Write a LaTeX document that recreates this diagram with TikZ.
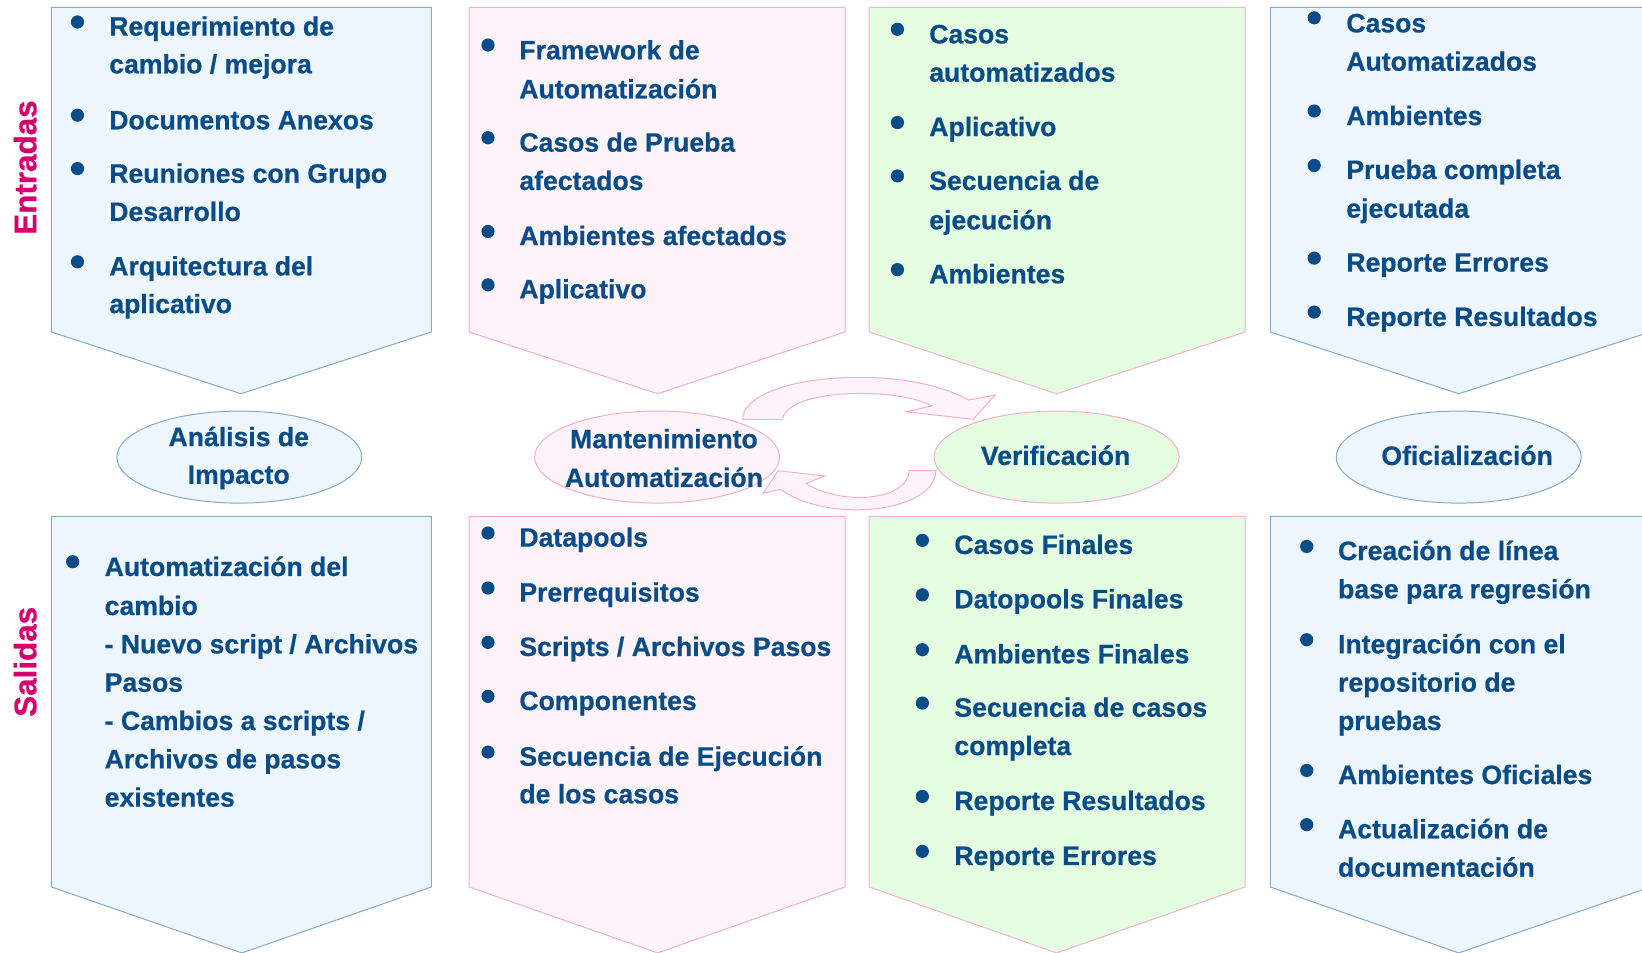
\documentclass[tikz,border=0pt]{standalone}
\usepackage{fontspec}
\setmainfont{Liberation Sans}[BoldFeatures={FakeBold=0.6}]
\usetikzlibrary{shapes.geometric}
\definecolor{tblue}{RGB}{10,76,136}
\definecolor{mag}{RGB}{214,0,111}
\definecolor{bfill}{RGB}{238,246,253}
\definecolor{bline}{RGB}{134,170,204}
\definecolor{pfill}{RGB}{255,243,250}
\definecolor{pline}{RGB}{244,175,207}
\definecolor{gfill}{RGB}{228,253,224}
\definecolor{gline}{RGB}{238,180,204}
\newcommand\mybul[3]{\node[bulst] (#1) at (#2,#3) {};}
\newcommand\myln[4]{\node[txt] (#1) at (#2,#3) {#4};}
\begin{document}
\begin{tikzpicture}[x=0.5236pt,y=-0.5236pt,
  txt/.style={font=\bfseries\fontsize{13.3}{16}\selectfont, text=tblue, inner sep=0pt, anchor=base west},
  lbl/.style={font=\bfseries\fontsize{13.3}{16}\selectfont, text=tblue, inner sep=0pt, anchor=base},
  side/.style={font=\bfseries\fontsize{15.7}{18}\selectfont, text=mag, inner sep=0pt, rotate=90},
  bulst/.style={circle, fill=tblue, inner sep=0pt, minimum size=6.6pt},
  bluebox/.style={fill=bfill, draw=bline, line width=0.5pt},
  pinkbox/.style={fill=pfill, draw=pline, line width=0.5pt},
  greenbox/.style={fill=gfill, draw=gline, line width=0.5pt},
  phase/.style={ellipse, minimum width=122.5pt, minimum height=46pt, line width=0.5pt, inner sep=0pt},
  cyc/.style={fill=pfill, draw=pline, line width=0.5pt},
]
\useasboundingbox (0,0) rectangle (1568,910);
\clip (0,0) rectangle (1568,910);
\fill[white] (0,0) rectangle (1568,910);

% top boxes
\draw[bluebox]  (49,7) -- (412,7) -- (412,317) -- (230,376) -- (49,317) -- cycle;
\draw[pinkbox]  (448,7) -- (807,7) -- (807,317) -- (628,376) -- (448,317) -- cycle;
\draw[greenbox] (830,7) -- (1189,7) -- (1189,317) -- (1009,376) -- (830,317) -- cycle;
\draw[bluebox]  (1213,7) -- (1576,7) -- (1576,317) -- (1393,376) -- (1213,317) -- cycle;
% bottom boxes
\draw[bluebox]  (49,493) -- (412,493) -- (412,847) -- (231,910) -- (49,847) -- cycle;
\draw[pinkbox]  (448,493) -- (807,493) -- (807,847) -- (628,910) -- (448,847) -- cycle;
\draw[greenbox] (830,493) -- (1189,493) -- (1189,847) -- (1009,910) -- (830,847) -- cycle;
\draw[bluebox]  (1213,493) -- (1576,493) -- (1576,847) -- (1393,910) -- (1213,847) -- cycle;

% side labels
\node[side] (ent) at (24,160) {Entradas};
\node[side] (sal) at (24,632) {Salidas};

% column 1 top
\mybul{b11}{74}{21}
\myln{t11a}{104}{34}{Requerimiento de}
\myln{t11b}{104}{70}{cambio / mejora}
\mybul{b12}{74}{110}
\myln{t12a}{104}{123.5}{Documentos Anexos}
\mybul{b13}{74}{161}
\myln{t13a}{104}{174.5}{Reuniones con Grupo}
\myln{t13b}{104}{211}{Desarrollo}
\mybul{b14}{74}{250}
\myln{t14a}{104}{263}{Arquitectura del}
\myln{t14b}{104}{299}{aplicativo}

% column 2 top
\mybul{b21}{466}{43}
\myln{t21a}{495.6}{56.7}{Framework de}
\myln{t21b}{495.6}{93.9}{Automatización}
\mybul{b22}{466}{131.5}
\myln{t22a}{495.6}{144.8}{Casos de Prueba}
\myln{t22b}{495.6}{181.4}{afectados}
\mybul{b23}{466}{221}
\myln{t23a}{495.6}{234}{Ambientes afectados}
\mybul{b24}{466}{272}
\myln{t24a}{495.6}{284.9}{Aplicativo}

% column 3 top
\mybul{b31}{857}{28}
\myln{t31a}{887}{41.4}{Casos}
\myln{t31b}{887}{78}{automatizados}
\mybul{b32}{857}{117}
\myln{t32a}{887}{129.9}{Aplicativo}
\mybul{b33}{857}{168}
\myln{t33a}{887}{181.4}{Secuencia de}
\myln{t33b}{887}{219}{ejecución}
\mybul{b34}{857}{257.5}
\myln{t34a}{887}{270.5}{Ambientes}

% column 4 top
\mybul{b41}{1255}{17}
\myln{t41a}{1285.3}{30.9}{Casos}
\myln{t41b}{1285.3}{67.5}{Automatizados}
\mybul{b42}{1255}{106}
\myln{t42a}{1285.3}{119.4}{Ambientes}
\mybul{b43}{1255}{158}
\myln{t43a}{1285.3}{170.9}{Prueba completa}
\myln{t43b}{1285.3}{207.9}{ejecutada}
\mybul{b44}{1255}{246.5}
\myln{t44a}{1285.3}{259.4}{Reporte Errores}
\mybul{b45}{1255}{298}
\myln{t45a}{1285.3}{311.3}{Reporte Resultados}

% column 1 bottom
\mybul{b51}{69.4}{536.4}
\myln{t51a}{99.6}{550}{Automatización del}
\myln{t51b}{99.6}{587.3}{cambio}
\myln{t51c}{99.6}{623.9}{- Nuevo script / Archivos}
\myln{t51d}{99.6}{660.5}{Pasos}
\myln{t51e}{99.6}{697.1}{- Cambios a scripts /}
\myln{t51f}{99.6}{733.7}{Archivos de pasos}
\myln{t51g}{99.6}{770.3}{existentes}

% column 2 bottom
\mybul{b61}{466}{509}
\myln{t61a}{495.6}{522}{Datapools}
\mybul{b62}{466}{561.5}
\myln{t62a}{495.6}{574.5}{Prerrequisitos}
\mybul{b63}{466}{613.4}
\myln{t63a}{495.6}{626.4}{Scripts / Archivos Pasos}
\mybul{b64}{466}{665}
\myln{t64a}{495.6}{678}{Componentes}
\mybul{b65}{466}{718.2}
\myln{t65a}{495.6}{731.2}{Secuencia de Ejecución}
\myln{t65b}{495.6}{767.1}{de los casos}

% column 3 bottom
\mybul{b71}{880.8}{516}
\myln{t71a}{911}{529}{Casos Finales}
\mybul{b72}{880.8}{568}
\myln{t72a}{911}{580.9}{Datopools Finales}
\mybul{b73}{880.8}{620.4}
\myln{t73a}{911}{633.4}{Ambientes Finales}
\mybul{b74}{880.8}{671.4}
\myln{t74a}{911}{684.4}{Secuencia de casos}
\myln{t74b}{911}{721}{completa}
\mybul{b75}{880.8}{760.5}
\myln{t75a}{911}{773.5}{Reporte Resultados}
\mybul{b76}{880.8}{813}
\myln{t76a}{911}{826}{Reporte Errores}

% column 4 bottom
\mybul{b81}{1247.8}{521.8}
\myln{t81a}{1277.4}{534.8}{Creación de línea}
\myln{t81b}{1277.4}{571.4}{base para regresión}
\mybul{b82}{1247.8}{610.9}
\myln{t82a}{1277.4}{623.9}{Integración con el}
\myln{t82b}{1277.4}{660.5}{repositorio de}
\myln{t82c}{1277.4}{697.1}{pruebas}
\mybul{b83}{1247.8}{735.7}
\myln{t83a}{1277.4}{748.7}{Ambientes Oficiales}
\mybul{b84}{1247.8}{787.5}
\myln{t84a}{1277.4}{800.5}{Actualización de}
\myln{t84b}{1277.4}{837.2}{documentación}

% phase ellipses
\node[phase, fill=bfill, draw=bline] (eA) at (228.5,436.5) {};
\node[phase, fill=pfill, draw=pline] (eM) at (627.5,436.5) {};
\node[phase, fill=gfill, draw=pline] (eV) at (1009,436.5) {};
\node[phase, fill=bfill, draw=bline] (eO) at (1393,436.5) {};
\node[lbl] (lA1) at (228,426) {Análisis de};
\node[lbl] (lA2) at (228,462) {Impacto};
\node[lbl] (lM1) at (634,428) {Mantenimiento};
\node[lbl] (lM2) at (634,465) {Automatización};
\node[lbl] (lV) at (1008,444) {Verificación};
\node[lbl] (lO) at (1401,444) {Oficialización};

% cycle arrows
\draw[cyc] (709.2,400.4) .. controls (710,358) and (860,345) .. (924.7,382)
  -- (950.2,377.2) -- (929.4,400.4) -- (865.2,393.2) -- (889.7,387.7)
  .. controls (860,370) and (752,370) .. (747.4,400.4) -- cycle;
\draw[cyc] (893.8,449.5) .. controls (892,490) and (790,500) .. (745.5,467.3)
  -- (728.9,471) -- (743.2,449.5) -- (787.8,454.5) -- (769.7,461.5)
  .. controls (800,482) and (866,480) .. (868.3,449.5) -- cycle;
\end{tikzpicture}
\end{document}
